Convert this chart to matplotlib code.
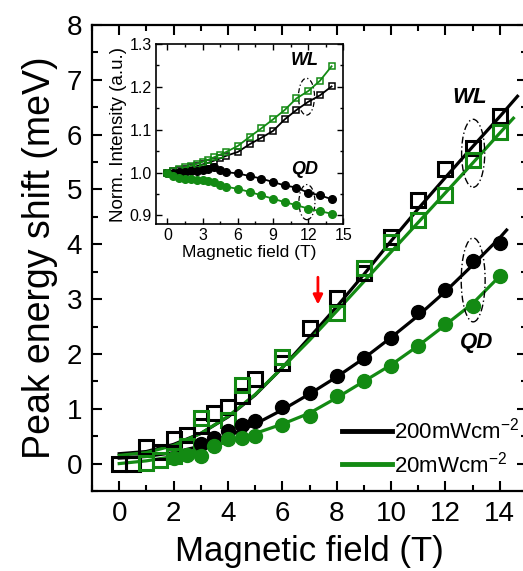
import matplotlib.pyplot as plt
from matplotlib.patches import Ellipse

plt.rcParams['font.family'] = ['Liberation Sans', 'DejaVu Sans']

GREEN = '#138a13'

# main panel: peak energy shift (meV) vs field (T)
wl_hi_x = [0, 0.5, 1, 1.5, 2, 2.5, 3, 3.5, 4, 4.5, 5, 6, 7, 8, 9, 10, 11, 12, 13, 14]
wl_hi_y = [0, 0, 0.3, 0.22, 0.44, 0.53, 0.68, 0.92, 1.04, 1.23, 1.55, 1.83, 2.47, 3.02,
           3.47, 4.14, 4.81, 5.37, 5.75, 6.34]
wl_lo_x = [1, 1.5, 2, 2.5, 3, 4, 4.5, 6, 8, 9, 10, 11, 12, 13, 14]
wl_lo_y = [0.01, 0.07, 0.13, 0.32, 0.83, 0.8, 1.44, 1.95, 2.75, 3.56, 4.05, 4.44, 4.9,
           5.54, 6.05]
qd_hi_x = [3, 3.5, 4, 4.5, 5, 6, 7, 8, 9, 10, 11, 12, 13, 14]
qd_hi_y = [0.35, 0.47, 0.59, 0.71, 0.77, 1.04, 1.29, 1.59, 1.93, 2.29, 2.77, 3.17,
           3.69, 4.02]
qd_lo_x = [2, 2.5, 3, 3.5, 4, 4.5, 5, 6, 7, 8, 9, 10, 11, 12, 13, 14]
qd_lo_y = [0.1, 0.16, 0.13, 0.32, 0.44, 0.47, 0.5, 0.71, 0.86, 1.23, 1.5, 1.78, 2.14,
           2.54, 2.88, 3.42]

# fitted curves
fit_wl_hi_x = [0, 1, 2, 3, 4, 5, 6, 7, 8, 9, 10, 11, 12, 13, 14, 14.65]
fit_wl_hi_y = [0.18, 0.22, 0.35, 0.55, 0.85, 1.25, 1.75, 2.3, 2.86, 3.45, 4.06, 4.65,
               5.22, 5.78, 6.33, 6.7]
fit_wl_lo_x = [0, 1, 2, 3, 4, 5, 6, 7, 8, 9, 10, 11, 12, 13, 14, 14.5]
fit_wl_lo_y = [0.15, 0.2, 0.33, 0.55, 0.86, 1.26, 1.75, 2.25, 2.78, 3.32, 3.86, 4.4,
               4.94, 5.48, 6.03, 6.3]
fit_qd_hi_x = [0, 1, 2, 3, 4, 5, 6, 7, 8, 9, 10, 11, 12, 13, 14, 14.25]
fit_qd_hi_y = [0.1, 0.13, 0.2, 0.32, 0.5, 0.72, 0.98, 1.27, 1.58, 1.92, 2.3, 2.7, 3.14,
               3.62, 4.12, 4.26]
fit_qd_lo_x = [0, 1, 2, 3, 4, 5, 6, 7, 8, 9, 10, 11, 12, 13, 14]
fit_qd_lo_y = [0.0, 0.05, 0.13, 0.25, 0.4, 0.55, 0.72, 0.92, 1.2, 1.5, 1.8, 2.15, 2.53,
               2.92, 3.42]

# inset: normalised intensity
in_x = [0, 0.5, 1, 1.5, 2, 2.5, 3, 3.5, 4, 4.5, 5, 6, 7, 8, 9, 10, 11, 12, 13, 14]
in_wl_hi = [1.0, 1.003, 1.006, 1.009, 1.012, 1.015, 1.019, 1.023, 1.028, 1.033, 1.039,
            1.048, 1.066, 1.081, 1.097, 1.124, 1.146, 1.165, 1.18, 1.201]
in_wl_lo = [1.0, 1.004, 1.008, 1.012, 1.016, 1.02, 1.025, 1.03, 1.036, 1.042, 1.048,
            1.062, 1.083, 1.103, 1.124, 1.146, 1.173, 1.19, 1.214, 1.248]
in_qd_hi = [1.0, 1.0, 1.001, 1.002, 1.003, 1.003, 1.005, 1.009, 1.012, 1.006, 1.001,
            0.998, 0.992, 0.986, 0.978, 0.97, 0.965, 0.953, 0.947, 0.938]
in_qd_lo = [1.0, 0.992, 0.988, 0.986, 0.984, 0.983, 0.982, 0.98, 0.977, 0.972, 0.967,
            0.962, 0.955, 0.947, 0.939, 0.931, 0.924, 0.916, 0.91, 0.904]

fig = plt.figure(figsize=(5.23, 5.71), dpi=100)
ax = fig.add_axes([92 / 523, 80 / 571, 435 / 523, 466 / 571])

ms = 10
ax.plot(fit_wl_hi_x, fit_wl_hi_y, color='black', lw=2.3, zorder=3)
ax.plot(fit_wl_lo_x, fit_wl_lo_y, color=GREEN, lw=2.3, zorder=3)
ax.plot(fit_qd_hi_x, fit_qd_hi_y, color='black', lw=2.3, zorder=3)
ax.plot(fit_qd_lo_x, fit_qd_lo_y, color=GREEN, lw=2.3, zorder=3)
ax.plot(wl_hi_x, wl_hi_y, 's', ms=ms, mfc='none', mec='black', mew=2.2, zorder=4)
ax.plot(wl_lo_x, wl_lo_y, 's', ms=ms, mfc='none', mec=GREEN, mew=2.2, zorder=4)
ax.plot(qd_hi_x, qd_hi_y, 'o', ms=ms, color='black', zorder=4)
ax.plot(qd_lo_x, qd_lo_y, 'o', ms=ms, color=GREEN, zorder=4)

ax.plot([], [], color='black', lw=3.5, label=r'200mWcm$^{\mathregular{-2}}$')
ax.plot([], [], color=GREEN, lw=3.5, label=r'20mWcm$^{\mathregular{-2}}$')
ax.legend(loc='lower left', bbox_to_anchor=(0.575, 0.03), frameon=False, fontsize=16,
          handlelength=2.25, handletextpad=0.1, labelspacing=0.35, borderaxespad=0,
          borderpad=0)

ax.add_patch(Ellipse((13.02, 5.66), 0.85, 1.24, fill=False, lw=1, ls=(0, (5, 2, 1, 2)),
                     zorder=5))
ax.add_patch(Ellipse((13.02, 3.35), 0.88, 1.53, fill=False, lw=1, ls=(0, (5, 2, 1, 2)),
                     zorder=5))
ax.text(12.9, 6.68, 'WL', fontsize=16, fontweight='bold', style='italic',
        ha='center', va='center')
ax.text(13.15, 2.2, 'QD', fontsize=16, fontweight='bold', style='italic',
        ha='center', va='center')
ax.annotate('', xy=(7.31, 2.85), xytext=(7.31, 3.45),
            arrowprops=dict(arrowstyle='-|>', color='red', lw=2, mutation_scale=14))

ax.set_xlim(-1, 15)
ax.set_ylim(-0.5, 8)
ax.set_xticks(range(0, 15, 2))
ax.set_xticks(range(-1, 16, 1), minor=True)
ax.set_yticks(range(0, 9))
ax.set_yticks([v / 2 for v in range(-1, 17)], minor=True)
ax.tick_params(which='both', direction='in', top=True, right=True, width=1.5)
ax.tick_params(which='major', length=7, labelsize=20, pad=7)
ax.tick_params(which='minor', length=4)
for s in ax.spines.values():
    s.set_linewidth(1.6)
ax.set_xlabel('Magnetic field (T)', fontsize=25, labelpad=6)
ax.set_ylabel('Peak energy shift (meV)', fontsize=27, labelpad=6)

# inset
ins = fig.add_axes([155.7 / 523, 347 / 571, 187.6 / 523, 180 / 571])
ins.plot(in_x, in_wl_hi, '-s', color='black', lw=1.3, ms=4.5, mfc='none', mew=1.1)
ins.plot(in_x, in_wl_lo, '-s', color=GREEN, lw=1.3, ms=4.5, mfc='none', mew=1.1)
ins.plot(in_x, in_qd_hi, '-o', color='black', lw=1.3, ms=5.5)
ins.plot(in_x, in_qd_lo, '-o', color=GREEN, lw=1.3, ms=5.5)
ins.add_patch(Ellipse((11.86, 1.177), 1.37, 0.086, fill=False, lw=0.9,
                      ls=(0, (4, 2, 1, 2))))
ins.add_patch(Ellipse((11.9, 0.931), 1.37, 0.082, fill=False, lw=0.9,
                      ls=(0, (4, 2, 1, 2))))
ins.text(11.7, 1.262, 'WL', fontsize=13, fontweight='bold', style='italic',
         ha='center', va='center')
ins.text(11.7, 1.008, 'QD', fontsize=13, fontweight='bold', style='italic',
         ha='center', va='center')
ins.set_xlim(-1, 15)
ins.set_ylim(0.88, 1.3)
ins.set_xticks(range(0, 16, 3))
ins.set_xticks([v * 1.5 for v in range(0, 11)], minor=True)
ins.set_yticks([0.9, 1.0, 1.1, 1.2, 1.3])
ins.set_yticklabels(['0.9', '1.0', '1.1', '1.2', '1.3'])
ins.set_yticks([0.9 + v * 0.05 for v in range(9)], minor=True)
ins.tick_params(which='both', direction='in', top=True, right=True, width=1)
ins.tick_params(which='major', length=4, labelsize=11.5, pad=3)
ins.tick_params(which='minor', length=2)
for s in ins.spines.values():
    s.set_linewidth(1.2)
ins.set_xlabel('Magnetic field (T)', fontsize=12.5, labelpad=1)
ins.set_ylabel('Norm. Intensity (a.u.)', fontsize=13.5, labelpad=2)

fig.savefig('out.png', dpi=100)
